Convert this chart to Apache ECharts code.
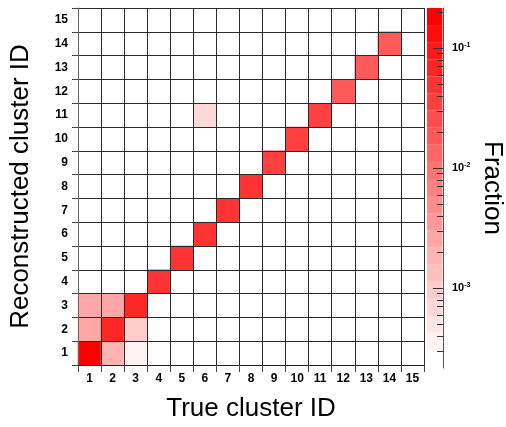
<!DOCTYPE html>
<html>
<head>
<meta charset="utf-8">
<script src="https://cdn.jsdelivr.net/npm/echarts@6/dist/echarts.min.js"></script>
<style>
  html, body { margin: 0; padding: 0; background: #fff; }
  #chart { width: 506px; height: 427px; }
</style>
</head>
<body>
<div id="chart"></div>
<script>
// Cluster IDs on both axes
const clusterIds = ['1','2','3','4','5','6','7','8','9','10','11','12','13','14','15'];

// [true cluster ID, reconstructed cluster ID, fraction]
const cellFractions = [
  [1, 1, 0.18],   [2, 1, 0.0018],  [3, 1, 0.00035],
  [1, 2, 0.0028], [2, 2, 0.065],   [3, 2, 0.00095],
  [1, 3, 0.0028], [2, 3, 0.0028],  [3, 3, 0.065],
  [4, 4, 0.048],  [5, 5, 0.048],   [6, 6, 0.048],
  [7, 7, 0.048],  [8, 8, 0.048],   [9, 9, 0.035],
  [10, 10, 0.035],[11, 11, 0.035], [12, 12, 0.02],
  [13, 13, 0.02], [14, 14, 0.02],  [6, 11, 0.00065]
];

// Colour scale (log z): coloured range, axis range, number of contour levels
const zMax = 0.215;
const zColorMin = 3.04e-4;
const zAxisMin = zMax / 1000;
const nContours = 20;

// Colour-bar tick values
const colorbarMajor = [1e-3, 1e-2, 1e-1];
const colorbarMinor = [3e-4, 4e-4, 5e-4, 6e-4, 7e-4, 8e-4, 9e-4,
                       2e-3, 3e-3, 4e-3, 5e-3, 6e-3, 7e-3, 8e-3, 9e-3,
                       2e-2, 3e-2, 4e-2, 5e-2, 6e-2, 7e-2, 8e-2, 9e-2, 2e-1];

const FONT = 'Liberation Sans, Arial, Helvetica, sans-serif';
const log10 = Math.log10;

// Contour band edges (in log10 space) and their white-to-red colours
const lo = log10(zColorMin), hi = log10(zMax);
const bandEdges = [];
for (let i = 0; i <= nContours; i++) bandEdges.push(lo + (hi - lo) * i / nContours);
const bandColors = [];
for (let i = 0; i < nContours; i++) {
  const g = Math.round(255 * (1 - (i + 1) / nContours));
  bandColors.push('rgb(255,' + g + ',' + g + ')');
}
const pieces = bandColors.map((c, i) => (
  i === nContours - 1
    ? { gte: bandEdges[i], color: c }
    : { gte: bandEdges[i], lt: bandEdges[i + 1], color: c }
));

const heatData = cellFractions.map(d => [d[0] - 1, d[1] - 1, log10(d[2])]);

// Colour-bar tick marks: [log10 value, tick length in px]
const colorbarTicks = colorbarMajor.map(v => [log10(v), 10])
  .concat(colorbarMinor.map(v => [log10(v), 6]));

const chart = echarts.init(document.getElementById('chart'), null, { renderer: 'canvas' });

const tickLabel = { color: '#000', fontFamily: FONT, fontWeight: 'bold', fontSize: 12 };
const titleText = { color: '#000', fontFamily: FONT, fontSize: 26 };

chart.setOption({
  animation: false,
  backgroundColor: '#fff',
  grid: [
    { left: 72, top: 8, width: 352, height: 360, show: false },
    { left: 427, top: 8, width: 21, height: 360, show: false }
  ],
  xAxis: [
    {
      gridIndex: 0, type: 'category', data: clusterIds, position: 'bottom', z: 5,
      name: 'True cluster ID', nameLocation: 'middle', nameGap: 31,
      nameTextStyle: titleText,
      axisLine: { show: true, lineStyle: { color: '#222', width: 1 } },
      axisTick: { show: true, length: 7, lineStyle: { color: '#444' } },
      axisLabel: Object.assign({ margin: 8, interval: 0 }, tickLabel),
      splitLine: { show: true, interval: 0, lineStyle: { color: '#2a2a2a', width: 1 } }
    },
    { gridIndex: 1, type: 'value', min: 0, max: 1, show: false }
  ],
  yAxis: [
    {
      gridIndex: 0, type: 'category', data: clusterIds, position: 'left', z: 5,
      name: 'Reconstructed cluster ID', nameLocation: 'middle', nameGap: 44,
      nameTextStyle: titleText,
      axisLine: { show: true, lineStyle: { color: '#666', width: 1 } },
      axisTick: { show: true, length: 6, lineStyle: { color: '#444' } },
      axisLabel: Object.assign({ margin: 10, interval: 0 }, tickLabel),
      splitLine: { show: true, interval: 0, lineStyle: { color: '#2a2a2a', width: 1 } }
    },
    {
      gridIndex: 1, type: 'value', position: 'right', z: 5,
      min: log10(zAxisMin), max: log10(zMax),
      name: 'Fraction', nameLocation: 'middle', nameGap: 36, nameRotate: -90,
      nameTextStyle: titleText,
      axisLine: { show: true, onZero: false, lineStyle: { color: '#555', width: 1 } },
      axisTick: { show: false },
      axisLabel: {
        show: true, margin: 9,
        customValues: colorbarMajor.map(log10),
        formatter: v => '{b|10}{s|' + Math.round(v) + '}',
        rich: {
          b: { fontFamily: FONT, fontWeight: 'bold', fontSize: 11, color: '#000' },
          s: { fontFamily: FONT, fontWeight: 'bold', fontSize: 7, color: '#000', verticalAlign: 'top', padding: [0, 0, 5, 0] }
        }
      },
      splitLine: { show: false }
    }
  ],
  visualMap: {
    type: 'piecewise', show: false, seriesIndex: 0, dimension: 2,
    pieces: pieces
  },
  series: [
    {
      type: 'heatmap', xAxisIndex: 0, yAxisIndex: 0,
      data: heatData,
      itemStyle: { borderWidth: 0 },
      emphasis: { disabled: true }
    },
    {
      // contour bands of the colour bar
      type: 'custom', xAxisIndex: 1, yAxisIndex: 1, z: 1, silent: true,
      data: bandColors.map((c, i) => [i]),
      renderItem: function (params, api) {
        const i = api.value(0);
        const p0 = api.coord([0, bandEdges[i]]);
        const p1 = api.coord([1, bandEdges[i + 1]]);
        return {
          type: 'rect',
          shape: { x: p0[0], y: p1[1], width: p1[0] - p0[0] - 0.5, height: p0[1] - p1[1] },
          style: { fill: bandColors[i] }
        };
      }
    },
    {
      // log tick marks of the colour bar, pointing inwards from its right edge
      type: 'custom', xAxisIndex: 1, yAxisIndex: 1, z: 3, silent: true,
      data: colorbarTicks,
      renderItem: function (params, api) {
        const p = api.coord([1, api.value(0)]);
        const y = Math.round(p[1]) + 0.5;
        return {
          type: 'line',
          shape: { x1: p[0] - api.value(1), y1: y, x2: p[0], y2: y },
          style: { stroke: '#333', lineWidth: 1 }
        };
      }
    }
  ]
});
</script>
</body>
</html>
